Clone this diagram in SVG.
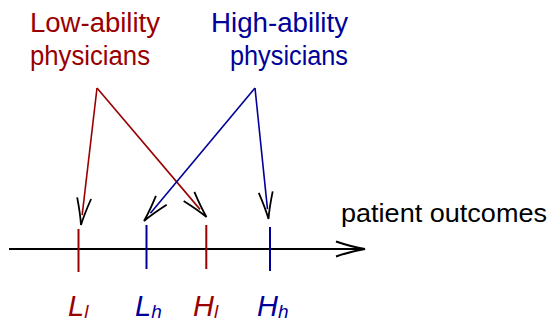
<svg xmlns="http://www.w3.org/2000/svg" width="550" height="322" viewBox="0 0 550 322">
  <style>
    .t { font-family: "Liberation Sans", Arial, sans-serif; }
    .red { fill: #990000; }
    .blue { fill: #000099; }
    .lab { font-family: "Liberation Sans", Arial, sans-serif; font-style: italic; font-size: 29px; }
    .sub { font-size: 19px; }
    .rs { stroke: #990000; stroke-width: 1.6; fill: none; }
    .bs { stroke: #000099; stroke-width: 1.6; fill: none; }
    .tickr { stroke: #990000; stroke-width: 2; }
    .tickb { stroke: #000099; stroke-width: 2; }
  </style>
  <defs>
    <marker id="ah" markerUnits="userSpaceOnUse" orient="auto" refX="0" refY="0" markerWidth="40" markerHeight="20" viewBox="-30 -10 40 20" overflow="visible">
      <path d="M-17,-7 Q-1,-2 10,0 Q-1,2 -17,7" fill="none" stroke="#000" stroke-width="1.8"/>
    </marker>
    <marker id="axh" markerUnits="userSpaceOnUse" orient="auto" refX="0" refY="0" markerWidth="40" markerHeight="20" viewBox="-30 -10 40 20" overflow="visible">
      <path d="M-28,-7.5 Q-12,-2 1,0 Q-12,2 -28,7.5" fill="none" stroke="#000" stroke-width="2"/>
    </marker>
  </defs>

  <g id="low-ability">
    <text class="t red" x="30" y="32" font-size="27" textLength="130" lengthAdjust="spacingAndGlyphs">Low-ability</text>
    <text class="t red" x="30" y="65" font-size="27" textLength="120" lengthAdjust="spacingAndGlyphs">physicians</text>
  </g>
  <g id="high-ability">
    <text class="t blue" x="211" y="32" font-size="27" textLength="137" lengthAdjust="spacingAndGlyphs">High-ability</text>
    <text class="t blue" x="230" y="65" font-size="27" textLength="118" lengthAdjust="spacingAndGlyphs">physicians</text>
  </g>

  <g id="axis">
    <line x1="9" y1="249" x2="364" y2="249" stroke="#000" stroke-width="2" marker-end="url(#axh)"/>
    <text class="t" x="341" y="222" font-size="26" fill="#000" textLength="206" lengthAdjust="spacingAndGlyphs">patient outcomes</text>
  </g>

  <g id="tick-Ll">
    <line class="tickr" x1="78.5" y1="229" x2="78.5" y2="272"/>
    <text class="lab red" x="68" y="316">L<tspan class="sub" dy="2">l</tspan></text>
  </g>
  <g id="tick-Lh">
    <line class="tickb" x1="146.5" y1="225" x2="146.5" y2="269"/>
    <text class="lab blue" x="135" y="316">L<tspan class="sub" dy="2">h</tspan></text>
  </g>
  <g id="tick-Hl">
    <line class="tickr" x1="206.3" y1="225" x2="206.3" y2="269"/>
    <text class="lab red" x="193" y="316">H<tspan class="sub" dy="2">l</tspan></text>
  </g>
  <g id="tick-Hh">
    <line class="tickb" x1="270" y1="227" x2="270" y2="271"/>
    <text class="lab blue" x="257" y="316">H<tspan class="sub" dy="2">h</tspan></text>
  </g>

  <g id="connectors">
    <line class="rs" x1="97" y1="88" x2="82.16" y2="215.07" marker-end="url(#ah)"/>
    <line class="rs" x1="97" y1="88" x2="200.03" y2="209.38" marker-end="url(#ah)"/>
    <line class="bs" x1="255" y1="88" x2="150.41" y2="213.32" marker-end="url(#ah)"/>
    <line class="bs" x1="255" y1="88" x2="267.48" y2="209.05" marker-end="url(#ah)"/>
  </g>
</svg>
